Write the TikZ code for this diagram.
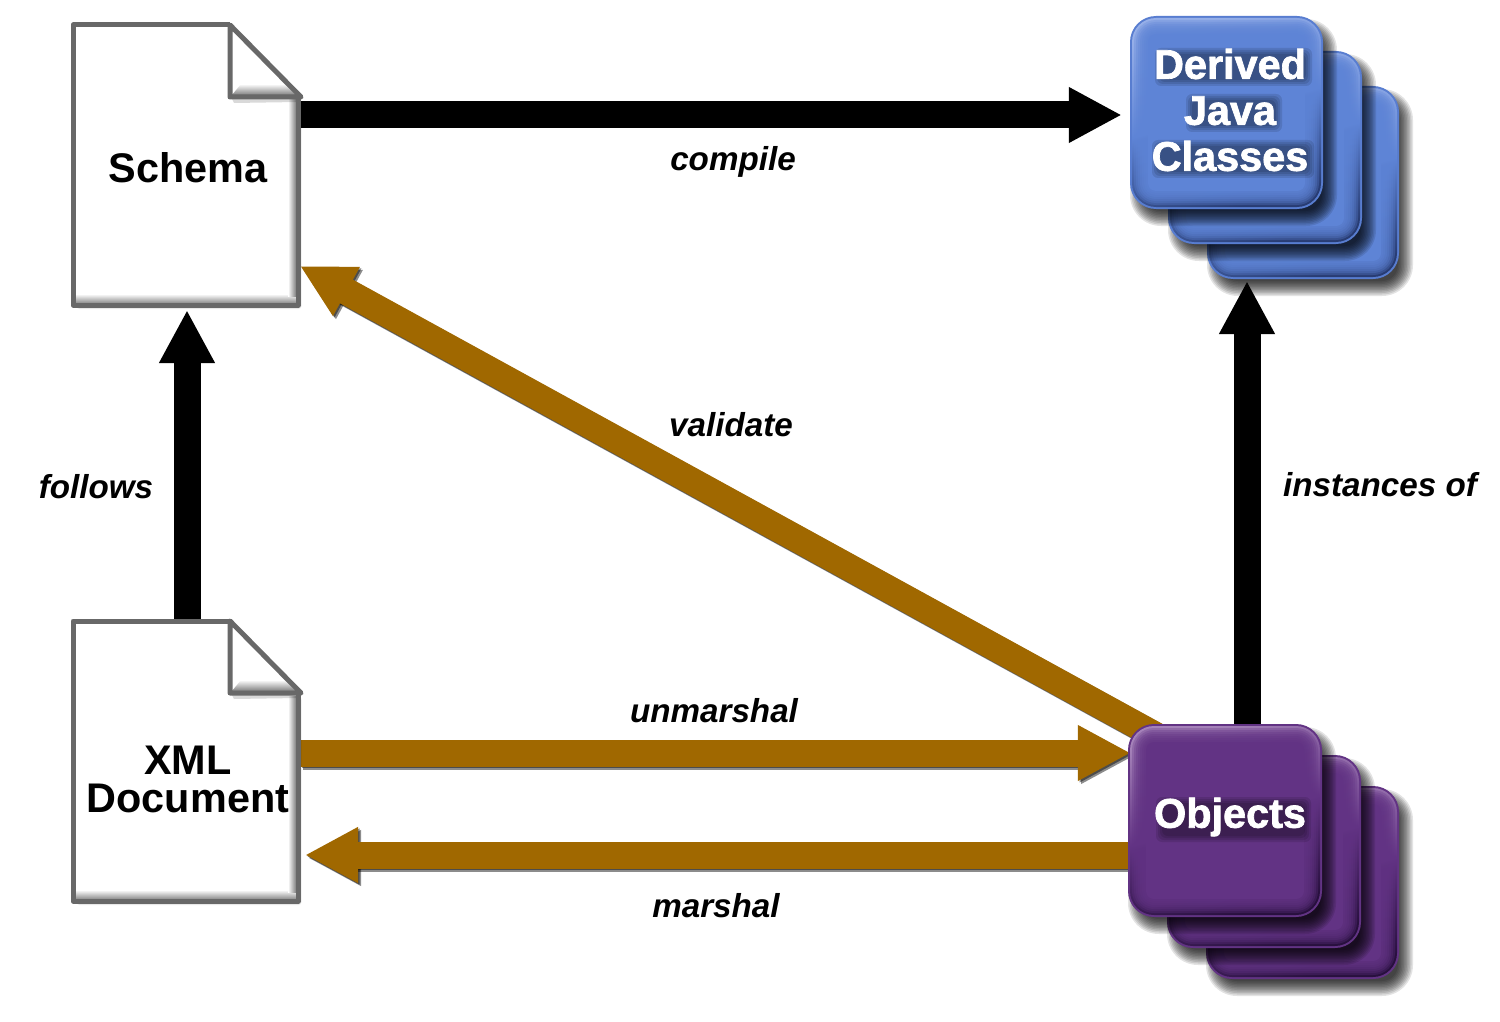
\documentclass[tikz,border=0pt]{standalone}
\usepackage{fontspec}
\setmainfont{Liberation Sans}
\usetikzlibrary{arrows.meta,calc}
\pgfdeclarelayer{arrowlayer}
\pgfdeclarelayer{decorlayer}
\pgfsetlayers{arrowlayer,decorlayer,main}
\definecolor{brownarrow}{RGB}{160,104,0}
\definecolor{docedge}{RGB}{104,104,104}
\definecolor{bluemain}{RGB}{94,132,214}
\definecolor{bluelite}{RGB}{150,175,232}
\definecolor{bluedark}{RGB}{40,60,115}
\definecolor{bluerim}{RGB}{88,125,208}
\definecolor{purpmain}{RGB}{98,51,132}
\definecolor{purplite}{RGB}{165,130,185}
\definecolor{purpdark}{RGB}{40,16,62}
\definecolor{purprim}{RGB}{98,51,132}
\tikzset{
  x=1pt,y=-1pt,
  blockarrow/.style={line width=27pt,-{Triangle[length=53pt,width=52pt]}},
  blackarrow/.style={blockarrow,draw=black},
  brownblock/.style={blockarrow,draw=brownarrow},
  shadowgrey/.style={blockarrow,draw=black,opacity=0.45,transparency group},
  doclabel/.style={inner sep=0pt,align=center,font=\fontsize{41.4}{38}\selectfont\bfseries,text=black},
  tilelabel/.style={inner sep=0pt,align=center,font=\fontsize{41.4}{46}\selectfont\bfseries,text=white},
  edgelabel/.style={inner sep=0pt,font=\fontsize{33.2}{38}\selectfont\bfseries\itshape,text=black},
}
% slightly heavier white letters
\newcommand{\heavy}[1]{\special{pdf:code q 2 Tr 0.7 w 1 1 1 RG}#1\special{pdf:code Q}}
% soft haze behind a word
\newcommand{\haze}[4]{%
  \foreach \k in {-2,0,2,4}{%
    \fill[black,opacity=0.11,rounded corners=6pt] (#1+\k,#2+\k) rectangle (#3-\k,#4-\k);
  }%
}
% rounded tile: x0 y0 x1 y1 colour prefix
\newcommand{\tileshape}[5]{%
  \foreach \k in {-7,-5.5,...,9}{%
    \pgfmathsetmacro{\ra}{#1+7+\k}\pgfmathsetmacro{\rb}{#2+10+\k}%
    \pgfmathsetmacro{\rc}{#3+7-\k}\pgfmathsetmacro{\rd}{#4+10-\k}%
    \pgfmathsetmacro{\rr}{max(24-\k,8)}%
    \fill[black,opacity=0.11,rounded corners=\rr pt] (\ra,\rb) rectangle (\rc,\rd);
  }%
  \fill[#5rim,rounded corners=26pt] (#1,#2) rectangle (#3,#4);
  \pgfmathsetmacro{\ra}{#1+2}\pgfmathsetmacro{\rb}{#2+2}\pgfmathsetmacro{\rc}{#3-2}\pgfmathsetmacro{\rd}{#4-2}%
  \path[rounded corners=24pt,top color=#5lite,bottom color=#5dark,middle color=#5main,shading angle=15] (\ra,\rb) rectangle (\rc,\rd);
  \foreach \k in {4,6,...,16}{%
    \pgfmathsetmacro{\ra}{#1+\k}\pgfmathsetmacro{\rb}{#2+\k}\pgfmathsetmacro{\rc}{#3-\k}\pgfmathsetmacro{\rd}{#4-\k}%
    \pgfmathsetmacro{\rr}{max(26-\k,8)}%
    \fill[#5main,opacity=0.3,rounded corners=\rr pt] (\ra,\rb) rectangle (\rc,\rd);
  }%
  \pgfmathsetmacro{\ra}{#1+18}\pgfmathsetmacro{\rb}{#2+18}\pgfmathsetmacro{\rc}{#3-18}\pgfmathsetmacro{\rd}{#4-18}%
  \fill[#5main,rounded corners=8pt] (\ra,\rb) rectangle (\rc,\rd);
}
% document page drawn at vertical offset #1
\newcommand{\docshape}[1]{%
  \begin{scope}[shift={(0,#1)}]
    \foreach \k in {1,...,5}{%
      \fill[black,opacity=0.08,rounded corners=3pt,shift={(\k*0.7,\k*0.8)}] (73,25)--(230,25)--(298,97)--(298,305)--(73,305)--cycle;
    }
    \fill[white] (73,25)--(230,25)--(298,97)--(298,305)--(73,305)--cycle;
    \shade[top color=white,bottom color=black!50] (75,294)--(296,294)--(296,304)--(75,304)--cycle;
    \shade[left color=white,right color=black!50] (288,100)--(296,100)--(296,296)--(288,296)--cycle;
    \fill[white] (75,27)--(288,27)--(288,294)--(75,294)--cycle;
    \fill[white] (232,27)--(298,95)--(232,95)--cycle;
    \shade[top color=white,bottom color=black!50] (241,84)--(284,84)--(296,95)--(232,95)--cycle;
    \fill[black,opacity=0.15] (232,99)--(298,99)--(298,102)--(234,103)--cycle;
    \draw[docedge,line width=5pt,line join=round] (230,25)--(73,25)--(73,305)--(298,305)--(298,97);
    \draw[docedge,line width=5pt,line join=round] (230,25)--(230,97)--(301,97)--cycle;
  \end{scope}
}
\begin{document}
\begin{tikzpicture}
\useasboundingbox (0,0) rectangle (1500,1022);

% nodes
\node[doclabel,minimum width=220pt,minimum height=284pt] (schema) at (188,168) {Schema};
\node[doclabel,minimum width=220pt,minimum height=284pt] (xmldoc) at (188,779) {XML\\Document};
\node[tilelabel,minimum width=194pt,minimum height=194pt] (classes) at (1230,110) {\heavy{Derived}\\\heavy{Java}\\\heavy{Classes}};
\node[tilelabel,minimum width=194pt,minimum height=193pt] (objects) at (1230,817) {\heavy{Objects}};

% edge labels
\node[edgelabel] (lcompile) at (733,162) {compile};
\node[edgelabel] (lvalidate) at (731,425) {validate};
\node[edgelabel] (lfollows) at (96,487) {follows};
\node[edgelabel] (linstances) at (1380,485) {instances of};
\node[edgelabel] (lunmarshal) at (714,711) {unmarshal};
\node[edgelabel] (lmarshal) at (716,906) {marshal};

\begin{pgfonlayer}{arrowlayer}
  \fill[white] (0,0) rectangle (1500,1022);
  % soft shadows of the brown arrows
  \foreach \s in {1.5,3}{
    \draw[shadowgrey,shift={(\s,\s)}] (1170,743) -- (300,266);
    \draw[shadowgrey,shift={(\s,\s)}] (300,753) -- (1131,753);
    \draw[shadowgrey,shift={(\s,\s)}] (1131,855) -- (305,855);
  }
  \draw[blackarrow,shorten >=11pt] (schema.east |- 0,115) -- (classes.west |- 0,115);
  \draw[blackarrow] (xmldoc.north -| 187,0) -- (187,310);
  \draw[blackarrow,shorten <=-10pt] (objects.north -| 1247,0) -- (1247,281);
  \draw[brownblock] (objects.north west) ++(37,23) -- (300,266);
  \draw[brownblock,shorten >=2pt] (xmldoc.east |- 0,753) -- (objects.west |- 0,753);
  \draw[brownblock] (objects.west |- 0,855) -- (305,855);
\end{pgfonlayer}

\begin{pgfonlayer}{decorlayer}
  \docshape{0}
  \docshape{596}
  \tileshape{1207}{86}{1399}{279}{blue}
  \tileshape{1168}{51}{1362}{244}{blue}
  \tileshape{1130}{16}{1323}{209}{blue}
  \tileshape{1206}{786}{1399}{979}{purp}
  \tileshape{1167}{755}{1361}{948}{purp}
  \tileshape{1128}{724}{1322}{917}{purp}
  \haze{1157}{50}{1310}{84}
  \haze{1188}{96}{1280}{130}
  \haze{1154}{142}{1312}{176}
  \haze{1158}{799}{1309}{840}
\end{pgfonlayer}
\end{tikzpicture}
\end{document}
